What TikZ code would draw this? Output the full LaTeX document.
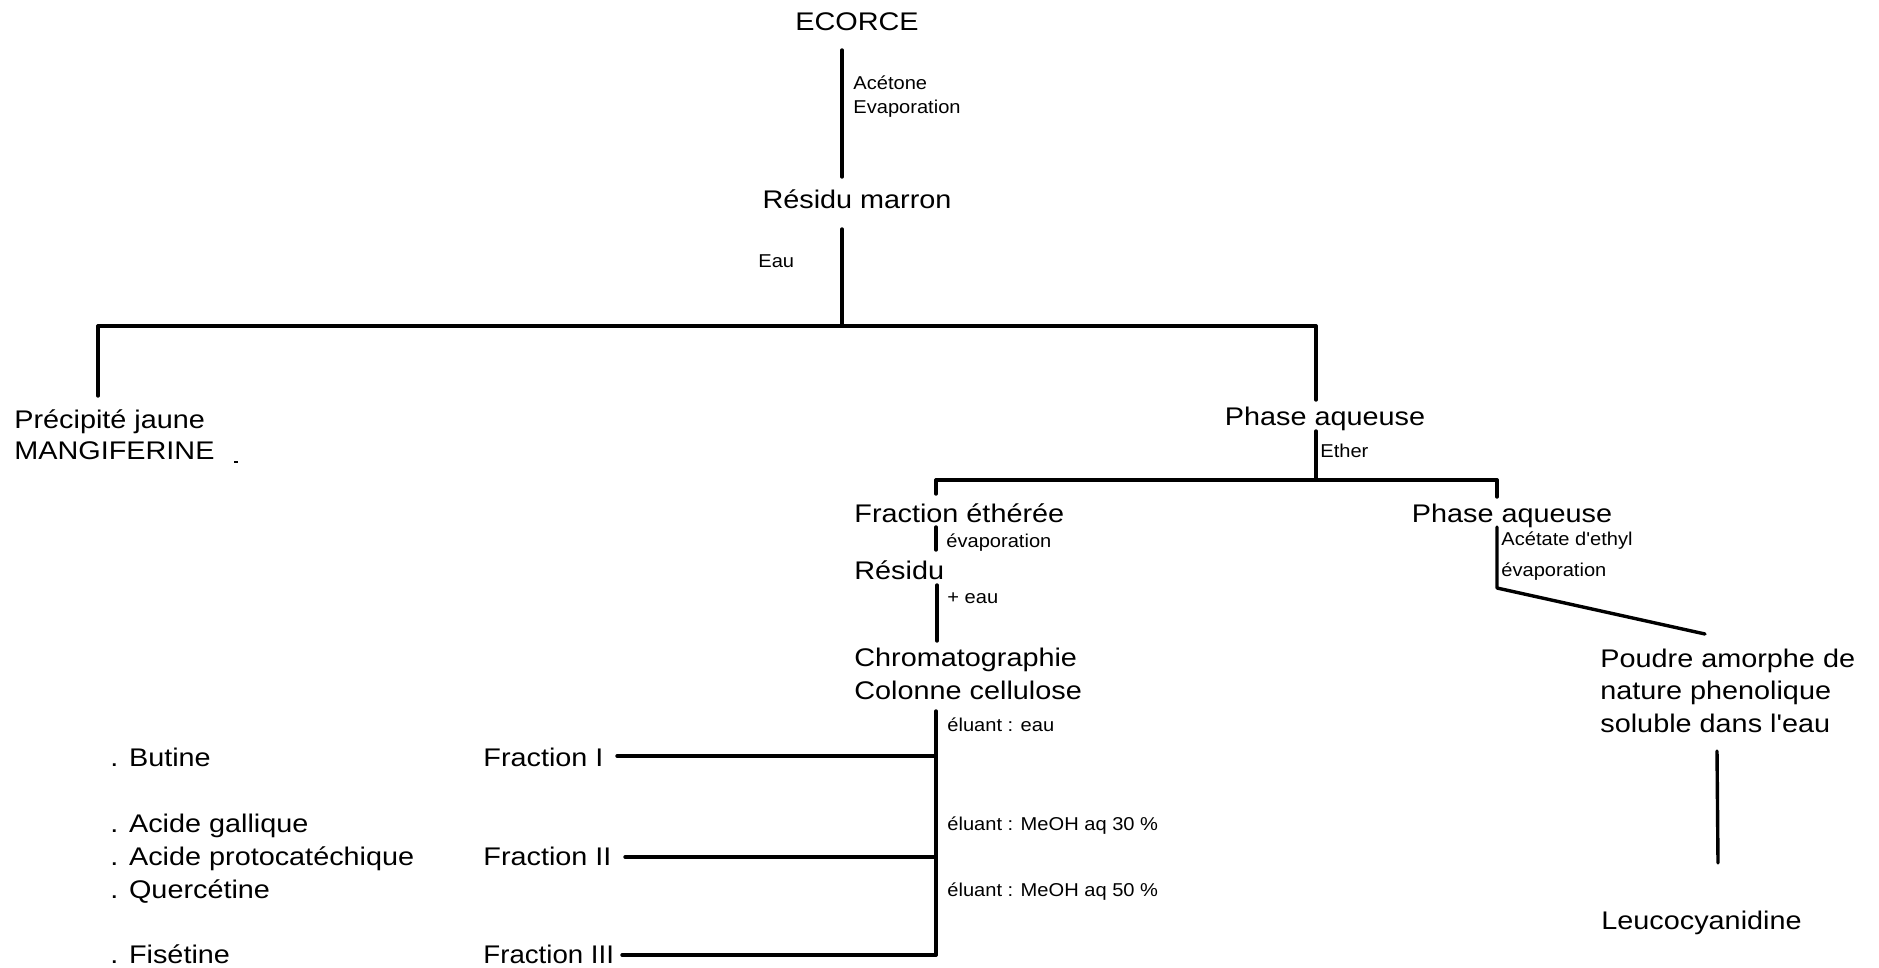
\documentclass[tikz,border=0pt]{standalone}
\usepackage{fontspec}
\setmainfont{Liberation Sans}
\newfontfamily\bigfont[FakeStretch=1.13]{Liberation Sans}
\newfontfamily\smallfont[FakeStretch=1.08]{Liberation Sans}
\begin{document}
\begin{tikzpicture}[x=0.5pt,y=-0.5pt,
  big/.style={font=\bigfont\fontsize{12.75}{15}\selectfont, inner sep=0pt},
  small/.style={font=\smallfont\fontsize{9.3}{11}\selectfont, inner sep=0pt},
  link/.style={line width=1.7pt, line cap=round}]
\useasboundingbox (0,0) rectangle (1879,968);
% main column
\node[big,anchor=base] (ecorce) at (857,31) {ECORCE};
\node[small,anchor=base west] (acet) at (853,90) {Acétone};
\node[small,anchor=base west] (evap1) at (853,114) {Evaporation};
\node[big,anchor=base] (resm) at (857,209) {Résidu marron};
\node[small,anchor=base west] (eau1) at (758,268) {Eau};
\coordinate (l1a) at (842,50); \coordinate (l1b) at (842,177);
\coordinate (l2a) at (842,229); \coordinate (l2b) at (842,326);
\draw[link] (l1a) -- (l1b);
\draw[link] (l2a) -- (l2b);
% first split
\coordinate (hL) at (98,326); \coordinate (hR) at (1316,326);
\coordinate (pL) at (98,396); \coordinate (pR) at (1316,400);
\draw[link] (hL) -- (hR);
\draw[link] (hL) -- (pL);
\draw[link] (hR) -- (pR);
\node[big,anchor=base west] (prec1) at (14,428) {Précipité jaune};
\node[big,anchor=base west] (prec2) at (14,459) {MANGIFERINE};
\coordinate (m1) at (234,462); \coordinate (m2) at (238,462);
\draw[line width=0.8pt] (m1) -- (m2);
\node[big,anchor=base] (pa1) at (1325,425) {Phase aqueuse};
% ether split
\coordinate (e1) at (1316,431); \coordinate (e2) at (1316,480);
\draw[link] (e1) -- (e2);
\node[small,anchor=base west] (ether) at (1320,457) {Ether};
\coordinate (sL) at (936,480); \coordinate (sR) at (1497,480);
\coordinate (tL) at (936,494); \coordinate (tR) at (1497,497);
\draw[link] (sL) -- (sR);
\draw[link] (sL) -- (tL);
\draw[link] (sR) -- (tR);
% left branch
\node[big,anchor=base west] (feth) at (854,522) {Fraction éthérée};
\coordinate (v1a) at (936,527); \coordinate (v1b) at (936,550);
\draw[link] (v1a) -- (v1b);
\node[small,anchor=base west] (evap2) at (946,547) {évaporation};
\node[big,anchor=base west] (res) at (854,579) {Résidu};
\coordinate (v2a) at (937,585); \coordinate (v2b) at (937,641);
\draw[link] (v2a) -- (v2b);
\node[small,anchor=base west] (peau) at (947,603) {+ eau};
\node[big,anchor=base west] (chrom) at (854,666) {Chromatographie};
\node[big,anchor=base west] (colon) at (854,699) {Colonne cellulose};
\coordinate (c1) at (936,711); \coordinate (c2) at (936,756);
\coordinate (c3) at (936,857); \coordinate (c4) at (936,955);
\draw[link] (c1) -- (c4);
\node[small,anchor=base west] (el1) at (947,731) {éluant : eau};
\node[small,anchor=base west] (el2) at (947,830) {éluant : MeOH aq 30 \%};
\node[small,anchor=base west] (el3) at (947,896) {éluant : MeOH aq 50 \%};
\node[big,anchor=base west] (fr1) at (483,766) {Fraction I};
\node[big,anchor=base west] (fr2) at (483,865) {Fraction II};
\node[big,anchor=base west,xscale=0.96,transform shape] (fr3) at (483,963) {Fraction III};
\coordinate (f1) at (617,756); \coordinate (f2) at (625,857); \coordinate (f3) at (622,955);
\draw[link] (f1) -- (c2);
\draw[link] (f2) -- (c3);
\draw[link] (f3) -- (c4);
\node[big,anchor=base west] (bu) at (110,766) {. Butine};
\node[big,anchor=base west] (ag) at (110,832) {. Acide gallique};
\node[big,anchor=base west] (ap) at (110,865) {. Acide protocatéchique};
\node[big,anchor=base west] (qu) at (110,898) {. Quercétine};
\node[big,anchor=base west] (fi) at (110,963) {. Fisétine};
% right branch
\node[big,anchor=base] (pa2) at (1512,522) {Phase aqueuse};
\coordinate (r1) at (1497,527); \coordinate (r2) at (1497,588); \coordinate (r3) at (1705,634);
\draw[link, line join=round] (r1) -- (r2) -- (r3);
\node[small,anchor=base west] (acety) at (1501,545) {Acétate d'ethyl};
\node[small,anchor=base west] (evap3) at (1501,576) {évaporation};
\node[big,anchor=base west] (po1) at (1600,667) {Poudre amorphe de};
\node[big,anchor=base west] (po2) at (1600,699) {nature phenolique};
\node[big,anchor=base west] (po3) at (1600,732) {soluble dans l'eau};
\coordinate (q1) at (1717,751); \coordinate (q2) at (1718,863);
\draw[link] (q1) -- (q2);
\node[big,anchor=base west] (leuco) at (1601,929) {Leucocyanidine};
\end{tikzpicture}
\end{document}
